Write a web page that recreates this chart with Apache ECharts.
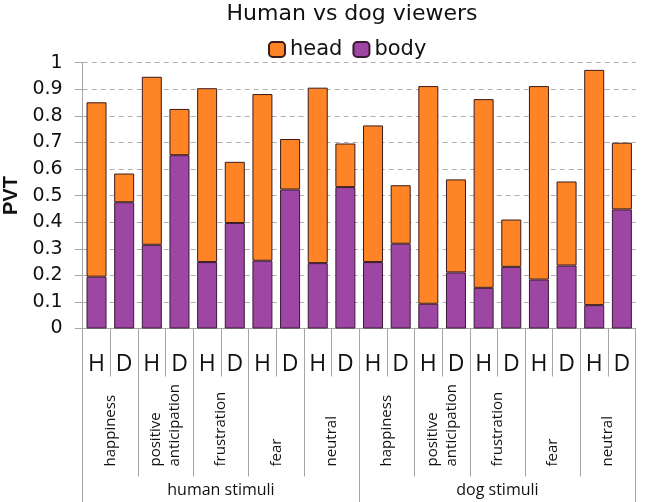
<!DOCTYPE html>
<html>
<head>
<meta charset="utf-8">
<script src="https://cdn.jsdelivr.net/npm/echarts@6/dist/echarts.min.js"></script>
<style>html,body{margin:0;padding:0;background:#fff}#c{width:645px;height:502px}</style>
</head>
<body>
<div id="c"></div>
<script>
var viewers = ['H','D','H','D','H','D','H','D','H','D','H','D','H','D','H','D','H','D','H','D'];
var emotions = ['happiness','positive\nanticipation','frustration','fear','neutral','happiness','positive\nanticipation','frustration','fear','neutral'];
var groups = ['human stimuli','dog stimuli'];
var body = [0.195,0.475,0.315,0.652,0.250,0.397,0.255,0.523,0.246,0.532,0.250,0.319,0.093,0.211,0.153,0.232,0.184,0.237,0.088,0.448];
var head = [0.656,0.108,0.632,0.174,0.654,0.230,0.627,0.190,0.660,0.164,0.514,0.220,0.819,0.350,0.710,0.178,0.728,0.316,0.885,0.251];
var yMin = 0, yMax = 1, yStep = 0.1;

var chart = echarts.init(document.getElementById('c'));
var gray = '#a6a6a6';
var sansLabel = '"Open Sans", "Noto Sans", sans-serif';
chart.setOption({
  animation: false,
  title: {
    text: 'Human vs dog viewers',
    left: 347, top: -2, textAlign: 'center',
    textStyle: {fontFamily: 'DejaVu Sans', fontSize: 22, fontWeight: 'normal', color: '#111'}
  },
  legend: {
    data: ['head','body'],
    left: 263, top: 34,
    itemWidth: 16, itemHeight: 15, itemGap: 10,
    textStyle: {fontFamily: 'DejaVu Sans', fontSize: 21, color: '#111'}
  },
  grid: {left: 82.7, right: 9.3, top: 62.7, bottom: 173.5, containLabel: false, outerBoundsMode: 'none'},
  xAxis: [
    {
      type: 'category', data: viewers, position: 'bottom',
      axisLine: {show: true, lineStyle: {color: gray, width: 1}},
      axisTick: {show: true, interval: 0, length: 48, lineStyle: {color: gray}},
      axisLabel: {interval: 0, margin: 24, fontFamily: sansLabel, fontSize: 23, color: '#111'},
      splitLine: {show: false}
    },
    {
      type: 'category', data: emotions, position: 'bottom',
      axisLine: {show: false},
      axisTick: {show: true, interval: 0, length: 148, lineStyle: {color: gray}},
      axisLabel: {interval: 0, rotate: 90, align: 'left', verticalAlign: 'middle', margin: 138, fontFamily: sansLabel, fontSize: 15, color: '#111', lineHeight: 19},
      splitLine: {show: false}
    },
    {
      type: 'category', data: groups, position: 'bottom',
      axisLine: {show: false},
      axisTick: {show: true, interval: 0, length: 180, lineStyle: {color: gray}},
      axisLabel: {interval: 0, margin: 154, fontFamily: sansLabel, fontSize: 16, color: '#111'},
      splitLine: {show: false}
    }
  ],
  yAxis: {
    type: 'value', min: yMin, max: yMax, interval: yStep,
    name: 'PVT', nameLocation: 'middle', nameGap: 60, nameRotate: 90,
    nameTextStyle: {fontFamily: '"Liberation Sans", Arial, sans-serif', fontSize: 20, fontWeight: 'bold', color: '#111'},
    axisLine: {show: true, lineStyle: {color: gray}},
    axisTick: {show: true, length: 8, lineStyle: {color: gray}},
    axisLabel: {margin: 20, fontFamily: 'DejaVu Sans', fontSize: 19, color: '#111',
      formatter: function (v) { return String(+v.toFixed(1)); }},
    splitLine: {show: true, lineStyle: {color: '#b0b0b0', type: [5, 4], width: 1}}
  },
  series: [
    {
      name: 'body', type: 'bar', stack: 'pvt', xAxisIndex: 0, data: body,
      barWidth: 20,
      itemStyle: {color: '#9d46a4', borderColor: '#3b1a33', borderWidth: 1}
    },
    {
      name: 'head', type: 'bar', stack: 'pvt', xAxisIndex: 0, data: head,
      barWidth: 20,
      itemStyle: {color: '#ff8426', borderColor: '#3b1a1a', borderWidth: 1}
    }
  ]
});
</script>
</body>
</html>
